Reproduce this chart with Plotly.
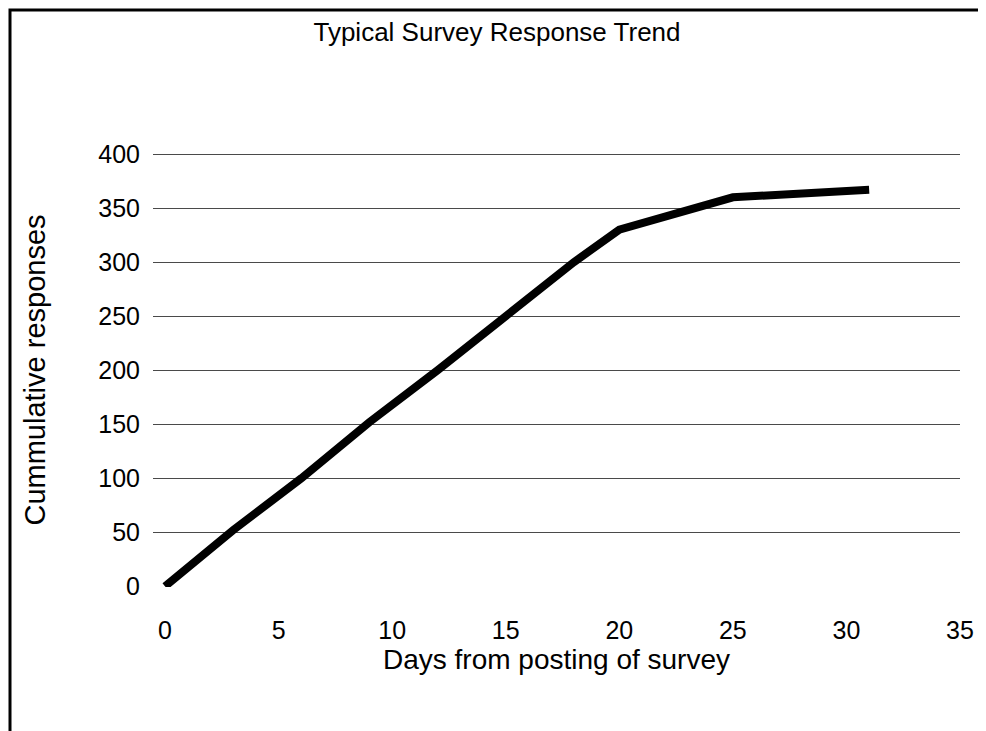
import plotly.graph_objects as go

# Datos
days = [0, 3, 6, 9, 12, 15, 18, 20, 22, 25, 31]
responses = [0, 52, 100, 152, 200, 250, 300, 330, 342, 360, 367]

x_ticks = [0, 5, 10, 15, 20, 25, 30, 35]
y_ticks = [0, 50, 100, 150, 200, 250, 300, 350, 400]

FONT = "Liberation Sans, Arial, sans-serif"
W, H = 986, 731
OFF = 8                       # margen por defecto del <body> en la página
L, R, T = 153 - OFF, 26 + OFF, 153 - OFF
B = H - (587 - OFF)

fig = go.Figure(go.Scatter(
    x=days, y=responses, mode="lines",
    line=dict(color="#000000", width=8),
    showlegend=False,
))

# marco exterior (recortado a la derecha y abajo, como en el original)
pw, ph = W - L - R, H - T - B
fig.add_shape(
    type="rect", xref="paper", yref="paper",
    x0=(2 - L) / pw, x1=(W + 20 - L) / pw,
    y0=-(B + 20) / ph, y1=(H - B - 2) / ph,
    line=dict(color="#000000", width=3), layer="above",
)

fig.update_layout(
    width=W, height=H,
    paper_bgcolor="#FFFFFF", plot_bgcolor="#FFFFFF",
    font=dict(family=FONT, size=25, color="#000000"),
    margin=dict(l=L, r=R, t=T, b=B, autoexpand=False),
    title=dict(text="Typical Survey Response Trend", x=(497 - OFF) / W, xanchor="center",
               y=1 - (32 - OFF) / H, yanchor="middle", font=dict(size=26)),
)
fig.update_xaxes(
    range=[-0.53, 35.0], tickvals=x_ticks, showgrid=False, zeroline=False,
    showline=False, ticks="", ticklabelstandoff=26,
    title=dict(text="Days from posting of survey", standoff=6, font=dict(size=28)),
)
fig.update_yaxes(
    range=[-0.6, 401], tickvals=y_ticks, showgrid=True, gridcolor="#4A4A4A",
    gridwidth=1, zeroline=False, showline=False, ticks="", ticklabelstandoff=12,
    title=dict(text="Cummulative responses", standoff=44, font=dict(size=29)),
)

fig.write_html("out.html")
